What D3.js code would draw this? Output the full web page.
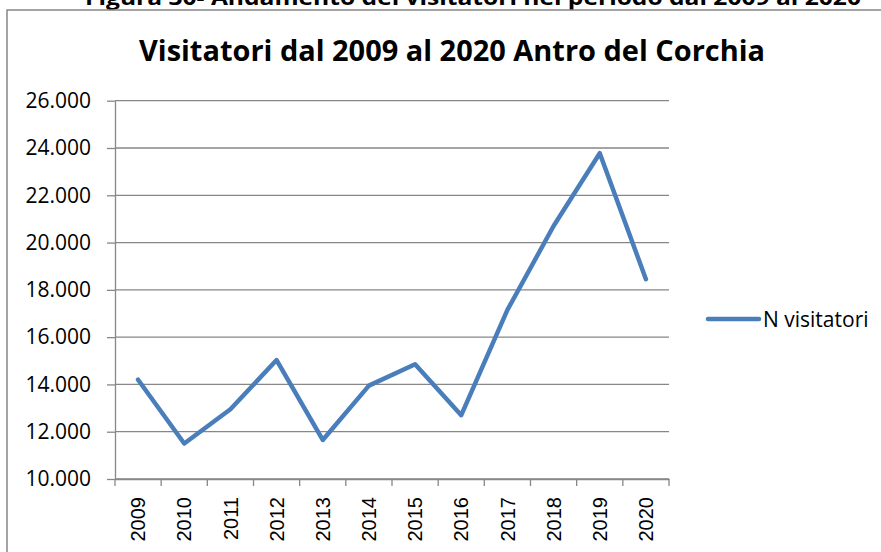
<!DOCTYPE html>
<html>
<head>
<meta charset="utf-8">
<script src="https://cdn.jsdelivr.net/npm/d3@7"></script>
<style>
  body { margin: 0; background: #fff; overflow: hidden; }
  svg { display: block; }
</style>
</head>
<body>
<svg width="881" height="552"></svg>
<script>
// dati
var anni = ["2009", "2010", "2011", "2012", "2013", "2014", "2015", "2016", "2017", "2018", "2019", "2020"];
var visitatori = [14200, 11500, 12950, 15030, 11650, 13950, 14850, 12700, 17150, 20700, 23780, 18450];
var yTicks = [10000, 12000, 14000, 16000, 18000, 20000, 22000, 24000, 26000];
var nomeSerie = "N visitatori";
var titolo = "Visitatori dal 2009 al 2020 Antro del Corchia";
var didascalia = "Figura 30- Andamento dei visitatori nel periodo dal 2009 al 2020";

var svg = d3.select("svg");
var grigio = "#878787";
var blu = "#4a7ebb";

var it = d3.formatLocale({ decimal: ",", thousands: ".", grouping: [3], currency: ["€", ""] });
var fmt = it.format(",d");

var x = d3.scaleBand().domain(anni).range([115, 669]);
var y = d3.scaleLinear().domain([10000, 26000]).range([479, 100.7]);

// didascalia tagliata in alto
svg.append("text")
	.attr("x", 473)
	.attr("y", 5)
	.attr("text-anchor", "middle")
	.attr("font-family", "Open Sans")
	.attr("font-weight", "bold")
	.attr("font-size", 22)
	.attr("textLength", 776)
	.attr("lengthAdjust", "spacingAndGlyphs")
	.text(didascalia);

// cornice
svg.append("rect")
	.attr("x", 7).attr("y", 10)
	.attr("width", 950).attr("height", 650)
	.attr("fill", "none")
	.attr("stroke", grigio)
	.attr("stroke-width", 1.5);

svg.append("text")
	.attr("x", 139)
	.attr("y", 61)
	.attr("font-family", "Open Sans")
	.attr("font-weight", "bold")
	.attr("font-size", 29)
	.attr("textLength", 626)
	.attr("lengthAdjust", "spacingAndGlyphs")
	.text(titolo);

// griglia
svg.append("g")
	.selectAll("line")
	.data(yTicks)
	.enter().append("line")
	.attr("x1", 115).attr("x2", 669)
	.attr("y1", function (d) { return y(d); })
	.attr("y2", function (d) { return y(d); })
	.attr("stroke", grigio)
	.attr("stroke-width", 1.3);

// asse y
var yAxis = svg.append("g")
	.attr("transform", "translate(115,0)")
	.call(d3.axisLeft(y).tickValues(yTicks).tickFormat(fmt).tickSize(8).tickSizeOuter(0).tickPadding(16));
yAxis.select(".domain").attr("stroke", grigio).attr("stroke-width", 1.3);
yAxis.selectAll(".tick line").attr("stroke", grigio).attr("stroke-width", 1.3);
yAxis.selectAll("text")
	.attr("fill", "#000")
	.attr("font-family", "Open Sans")
	.attr("font-size", 21);

// asse x
var xAxis = svg.append("g")
	.attr("transform", "translate(0,479)")
	.call(d3.axisBottom(x).tickSize(0).tickSizeOuter(0));
xAxis.select(".domain").attr("stroke", grigio).attr("stroke-width", 1.3);
xAxis.selectAll("text")
	.attr("fill", "#000")
	.attr("font-family", "Liberation Sans")
	.attr("font-size", 20)
	.attr("transform", "rotate(-90)")
	.attr("x", -18)
	.attr("y", 0)
	.attr("dy", "0.36em")
	.style("text-anchor", "end");

// tacche tra le categorie
var bordi = anni.map(function (d) { return x(d); }).concat([x.range()[1]]);
xAxis.selectAll(".sep")
	.data(bordi)
	.enter().append("line")
	.attr("class", "sep")
	.attr("x1", function (d) { return d; })
	.attr("x2", function (d) { return d; })
	.attr("y1", 0).attr("y2", 7)
	.attr("stroke", grigio)
	.attr("stroke-width", 1.3);

// linea
var linea = d3.line()
	.x(function (d, i) { return x(anni[i]) + x.bandwidth() / 2; })
	.y(function (d) { return y(d); });

svg.append("path")
	.datum(visitatori)
	.attr("d", linea)
	.attr("fill", "none")
	.attr("stroke", blu)
	.attr("stroke-width", 4.5)
	.attr("stroke-linejoin", "round")
	.attr("stroke-linecap", "round");

// legenda
var leg = svg.append("g").attr("transform", "translate(708,319)");
leg.append("line")
	.attr("x1", 0).attr("x2", 51)
	.attr("y1", 0).attr("y2", 0)
	.attr("stroke", blu)
	.attr("stroke-width", 4.5)
	.attr("stroke-linecap", "round");
leg.append("text")
	.attr("x", 55)
	.attr("y", 7.5)
	.attr("font-family", "Open Sans")
	.attr("font-size", 21)
	.text(nomeSerie);
</script>
</body>
</html>
